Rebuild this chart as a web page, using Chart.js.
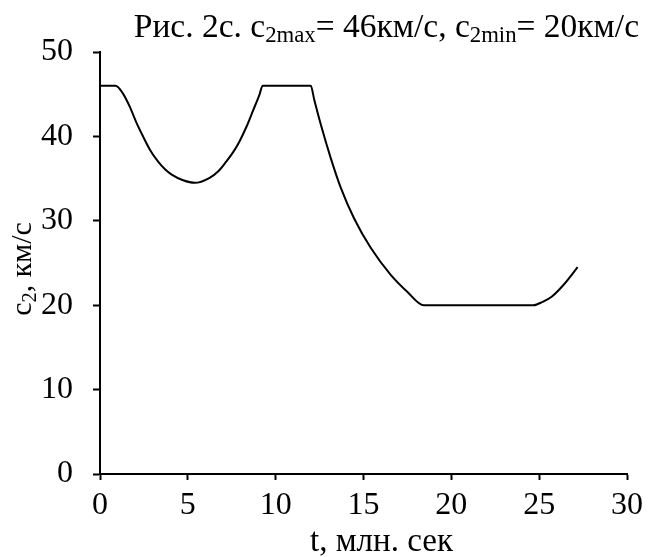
<!DOCTYPE html>
<html>
<head>
<meta charset="utf-8">
<script src="https://cdn.jsdelivr.net/npm/chart.js@4.4.1/dist/chart.umd.min.js"></script>
<style>
html,body{margin:0;padding:0;background:#fff;}
#wrap{width:649px;height:557px;position:relative;}
</style>
</head>
<body>
<div id="wrap"><canvas id="c" width="649" height="557"></canvas></div>
<script>
// Data
const timeValues = [0, 0.89, 1.30, 1.70, 2.08, 2.45, 2.85, 3.31, 3.70, 4.06, 4.73, 5.39, 6.24, 6.75, 7.18, 7.60, 7.94, 8.35, 8.70, 9.07, 9.26, 12.0, 12.19, 12.57, 13.14, 13.71, 14.46, 15.41, 16.55, 17.49, 18.43, 24.67, 25.20, 25.71, 26.47, 27.19];
const speedValues = [46, 46, 45.1, 43.5, 41.6, 40.0, 38.4, 37.0, 36.1, 35.5, 34.8, 34.5, 35.1, 35.9, 37.0, 38.2, 39.4, 41.2, 43.0, 44.9, 46, 46, 44.4, 41.4, 37.4, 33.9, 30.3, 26.8, 23.6, 21.6, 20, 20, 20.4, 21.0, 22.6, 24.5];
const xTicks = [0, 5, 10, 15, 20, 25, 30];
const yTicks = [0, 10, 20, 30, 40, 50];
const titleParts = [["Рис. 2c. c", false], ["2max", true], ["= 46км/с, c", false], ["2min", true], ["= 20км/с", false]];
const yTitleParts = [["c", false], ["2", true], [", км/с", false]];
const xTitle = "t, млн. сек";

const FONT = "'Liberation Serif', 'Times New Roman', serif";

function drawParts(ctx, parts, size, subRatio, subShift) {
  let x = 0;
  for (const [t, sub] of parts) {
    ctx.font = (sub ? size * subRatio : size) + "px " + FONT;
    ctx.fillText(t, x, sub ? subShift : 0);
    x += ctx.measureText(t).width;
  }
  return x;
}
function measureParts(ctx, parts, size, subRatio) {
  let w = 0;
  for (const [t, sub] of parts) {
    ctx.font = (sub ? size * subRatio : size) + "px " + FONT;
    w += ctx.measureText(t).width;
  }
  return w;
}

const textPlugin = {
  id: 'texts',
  afterDraw(chart) {
    const ctx = chart.ctx;
    const area = chart.chartArea;
    ctx.save();
    ctx.fillStyle = '#000';
    ctx.textBaseline = 'alphabetic';
    ctx.textAlign = 'left';
    // main title
    const tSize = 33.5;
    const tw = measureParts(ctx, titleParts, tSize, 0.68);
    ctx.save();
    ctx.translate(639 - tw, 37);
    drawParts(ctx, titleParts, tSize, 0.68, 5);
    ctx.restore();
    // y title
    const ySize = 30;
    const yw = measureParts(ctx, yTitleParts, ySize, 0.68);
    ctx.save();
    ctx.translate(31, (area.top + area.bottom) / 2 + 6 + yw / 2);
    ctx.rotate(-Math.PI / 2);
    drawParts(ctx, yTitleParts, ySize, 0.68, 5);
    ctx.restore();
    // x title
    ctx.font = "33px " + FONT;
    ctx.textAlign = 'center';
    ctx.fillText(xTitle, (area.left + area.right) / 2 + 18, 551);
    ctx.restore();
  }
};

new Chart(document.getElementById('c'), {
  type: 'line',
  data: {
    datasets: [{
      data: timeValues.map((t, i) => ({x: t, y: speedValues[i]})),
      borderColor: '#000',
      borderWidth: 2,
      pointRadius: 0,
      fill: false,
      cubicInterpolationMode: 'monotone'
    }]
  },
  options: {
    responsive: false,
    animation: false,
    events: [],
    layout: {padding: {top: 52, right: 20, bottom: 0, left: 0}},
    plugins: {legend: {display: false}, tooltip: {enabled: false}, title: {display: false}},
    scales: {
      x: {
        type: 'linear',
        min: 0, max: 30,
        afterBuildTicks(s) { s.ticks = xTicks.map(v => ({value: v})); },
        afterFit(s) { s.height = 83; },
        grid: {display: true, drawOnChartArea: false, drawTicks: true, tickLength: 6, tickWidth: 2, color: '#000'},
        border: {display: true, color: '#000', width: 2},
        ticks: {color: '#000', font: {family: FONT, size: 32}, padding: 6, maxRotation: 0, autoSkip: false}
      },
      y: {
        type: 'linear',
        min: 0, max: 50,
        afterBuildTicks(s) { s.ticks = yTicks.map(v => ({value: v})); },
        afterFit(s) { s.width = 100; },
        grid: {display: true, drawOnChartArea: false, drawTicks: true, tickLength: 7, tickWidth: 2, color: '#000'},
        border: {display: true, color: '#000', width: 2},
        ticks: {color: '#000', font: {family: FONT, size: 32}, padding: 20, autoSkip: false}
      }
    }
  },
  plugins: [textPlugin]
});
</script>
</body>
</html>
